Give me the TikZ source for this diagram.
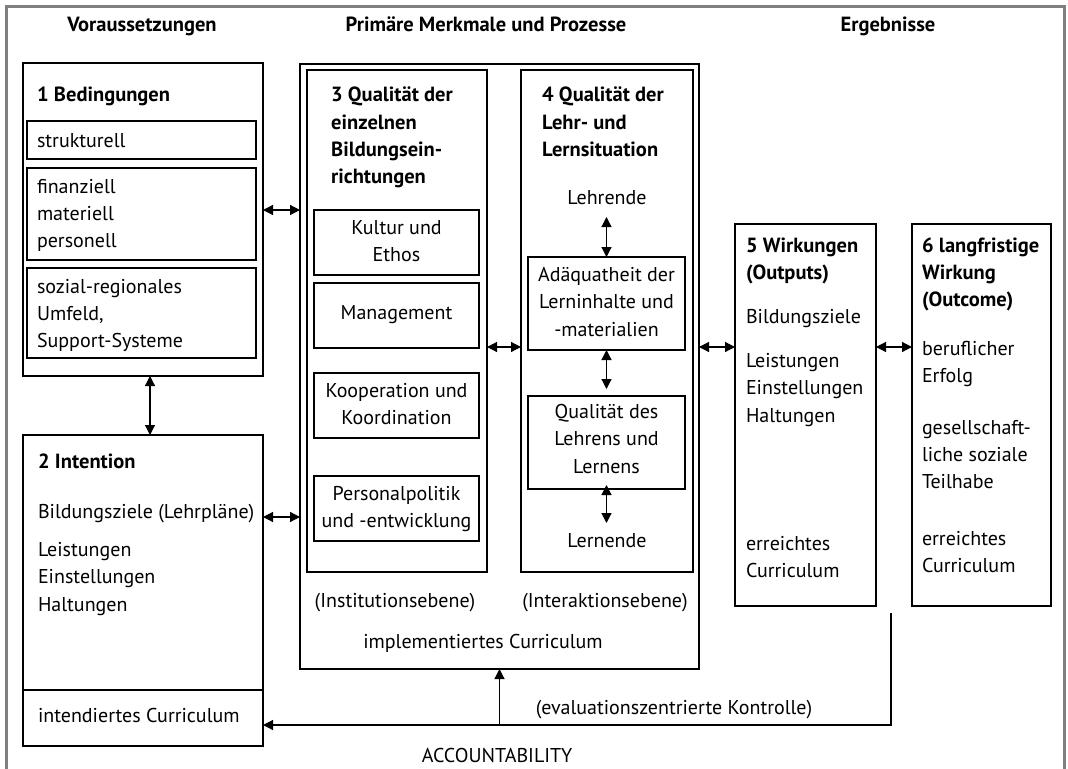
\documentclass[tikz,border=0pt]{standalone}
\usepackage{fontspec}
\setmainfont{PT Sans}
\usetikzlibrary{arrows.meta,calc}
\newcommand\mybox[5]{\node[bx, anchor=north west, minimum width={(#4-#2)*1bp}, minimum height={(#5-#3)*1bp}] (#1) at (#2,#3) {};}
\begin{document}
\begin{tikzpicture}[x=1bp,y=-1bp,
  every node/.style={font=\fontsize{20bp}{27bp}\selectfont},
  bx/.style={draw, line width=1.2bp, inner sep=0pt, outer sep=0pt},
  tx/.style={anchor=base west, inner sep=0pt, outer sep=0pt},
  tc/.style={anchor=base, inner sep=0pt, outer sep=0pt},
  hd/.style={anchor=base, inner sep=0pt, font=\fontsize{20.5bp}{27bp}\selectfont\bfseries},
  bt/.style={anchor=base west, inner sep=0pt, font=\fontsize{20.5bp}{27bp}\selectfont\bfseries},
  dbl/.style={{Triangle[length=10bp,width=10bp]}-{Triangle[length=10bp,width=10bp]}, line width=1.2bp},
  sgl/.style={-{Triangle[length=10bp,width=10bp]}, line width=1.2bp},
  frame/.style={draw=black!50, line width=2.2bp}]
\useasboundingbox (0,0) rectangle (1068,769);
\draw[frame] (6.5,769) -- (6.5,6.5) -- (1064.5,6.5) -- (1064.5,769);

% headers
\node[hd] (h1) at (142,32) {Voraussetzungen};
\node[hd] (h2) at (486,32) {Primäre Merkmale und Prozesse};
\node[hd] (h3) at (888,32) {Ergebnisse};

% boxes
\mybox{b1}{23}{63}{263}{376}
\mybox{s1}{27}{121}{256}{159}
\mybox{s2}{27}{168}{256}{260}
\mybox{s3}{27}{268}{256}{358}
\mybox{b2}{23}{435}{263}{746}
\draw[line width=1.2bp] (b2.west |- 0,690) -- (b2.east |- 0,690);
\mybox{mid}{300}{64}{699}{669}
\mybox{b3}{307}{70}{487}{572}
\mybox{b4}{521}{70}{693}{572}
\mybox{k1}{314}{210}{479}{275}
\mybox{k2}{314}{283}{479}{348}
\mybox{k3}{314}{373}{479}{438}
\mybox{k4}{314}{476}{479}{541}
\mybox{a1}{528}{257}{685}{350}
\mybox{a2}{528}{396}{685}{489}
\mybox{b5}{735}{224}{876}{606}
\mybox{b6}{912}{224}{1051}{606}

% box 1
\node[bt] (t1) at (37,102) {1 Bedingungen};
\node[tx] (t1a) at (37,147) {strukturell};
\node[tx] (t1b) at (37,193) {finanziell};
\node[tx] (t1c) at (37,220) {materiell};
\node[tx] (t1d) at (37,247) {personell};
\node[tx] (t1e) at (37,293) {sozial-regionales};
\node[tx] (t1f) at (37,320) {Umfeld,};
\node[tx] (t1g) at (37,347) {Support-Systeme};

% box 2
\node[bt] (t2) at (38,468) {2 Intention};
\node[tx] (t2a) at (38,518) {Bildungsziele (Lehrpläne)};
\node[tx] (t2b) at (38,556) {Leistungen};
\node[tx] (t2c) at (38,583) {Einstellungen};
\node[tx] (t2d) at (38,611) {Haltungen};
\node[tx] (t2e) at (38,722) {intendiertes Curriculum};

% box 3
\node[bt] (t3a) at (331,102) {3 Qualität der};
\node[bt] (t3b) at (331,129) {einzelnen};
\node[bt] (t3c) at (331,156) {Bildungsein-};
\node[bt] (t3d) at (331,183) {richtungen};
\node[tc] (k1a) at (396.5,234) {Kultur und};
\node[tc] (k1b) at (396.5,261) {Ethos};
\node[tc] (k2a) at (396.5,319) {Management};
\node[tc] (k3a) at (396.5,397) {Kooperation und};
\node[tc] (k3b) at (396.5,424) {Koordination};
\node[tc] (k4a) at (396.5,500) {Personalpolitik};
\node[tc] (k4b) at (396.5,527) {und -entwicklung};

% box 4
\node[bt] (t4a) at (542,102) {4 Qualität der};
\node[bt] (t4b) at (542,129) {Lehr- und};
\node[bt] (t4c) at (542,156) {Lernsituation};
\node[tc] (leh) at (607,204) {Lehrende};
\node[tc] (a1a) at (606.5,281) {Adäquatheit der};
\node[tc] (a1b) at (606.5,308) {Lerninhalte und};
\node[tc] (a1c) at (606.5,336) {-materialien};
\node[tc] (a2a) at (606.5,418) {Qualität des};
\node[tc] (a2b) at (606.5,445) {Lehrens und};
\node[tc] (a2c) at (606.5,473) {Lernens};
\node[tc] (lern) at (607,547) {Lernende};

% middle box labels
\node[tc] (inst) at (395,607) {(Institutionsebene)};
\node[tc] (inter) at (605,607) {(Interaktionsebene)};
\node[tc] (impl) at (483,648) {implementiertes Curriculum};

% box 5
\node[bt] (t5a) at (746,252) {5 Wirkungen};
\node[bt] (t5b) at (746,279) {(Outputs)};
\node[tx] (t5c) at (746,323) {Bildungsziele};
\node[tx] (t5d) at (746,367) {Leistungen};
\node[tx] (t5e) at (746,394) {Einstellungen};
\node[tx] (t5f) at (746,422) {Haltungen};
\node[tx] (t5g) at (746,550) {erreichtes};
\node[tx] (t5h) at (746,577) {Curriculum};

% box 6
\node[bt] (t6a) at (922,252) {6 langfristige};
\node[bt] (t6b) at (922,279) {Wirkung};
\node[bt] (t6c) at (922,306) {(Outcome)};
\node[tx] (t6d) at (922,355) {beruflicher};
\node[tx] (t6e) at (922,382) {Erfolg};
\node[tx] (t6f) at (922,434) {gesellschaft-};
\node[tx] (t6g) at (922,461) {liche soziale};
\node[tx] (t6h) at (922,488) {Teilhabe};
\node[tx] (t6i) at (922,545) {erreichtes};
\node[tx] (t6j) at (922,572) {Curriculum};

% bottom labels
\node[tc] (eval) at (674,714) {(evaluationszentrierte Kontrolle)};
\node[tc] (acc) at (497,762) {ACCOUNTABILITY};

% connector coordinates
\coordinate (y210) at (0,210);
\coordinate (y347) at (0,347);
\coordinate (y517) at (0,517);
\coordinate (x150) at (150,0);
\coordinate (fb) at (891,613);
\coordinate (fbc) at (891,725);

% connectors
\draw[dbl] (b1.east |- y210) -- (mid.west |- y210);
\draw[dbl] (b2.east |- y517) -- (mid.west |- y517);
\draw[dbl] (b1.south -| x150) -- (b2.north -| x150);
\draw[dbl] (b3.east |- y347) -- (b4.west |- y347);
\draw[dbl] (mid.east |- y347) -- (b5.west |- y347);
\draw[dbl] (b5.east |- y347) -- (b6.west |- y347);
\draw[dbl] ($(a1.north)+(0,-40)$) -- (a1.north);
\draw[dbl] (a1.south) -- ($(a2.north)+(0,-7)$);
\draw[dbl] ($(a2.south)+(0,-4)$) -- ($(a2.south)+(0,34)$);
\draw[sgl] (fb) -- (fbc) -- (b2.east |- fbc);
\draw[sgl] (mid.south |- fbc) -- (mid.south);
\end{tikzpicture}
\end{document}
